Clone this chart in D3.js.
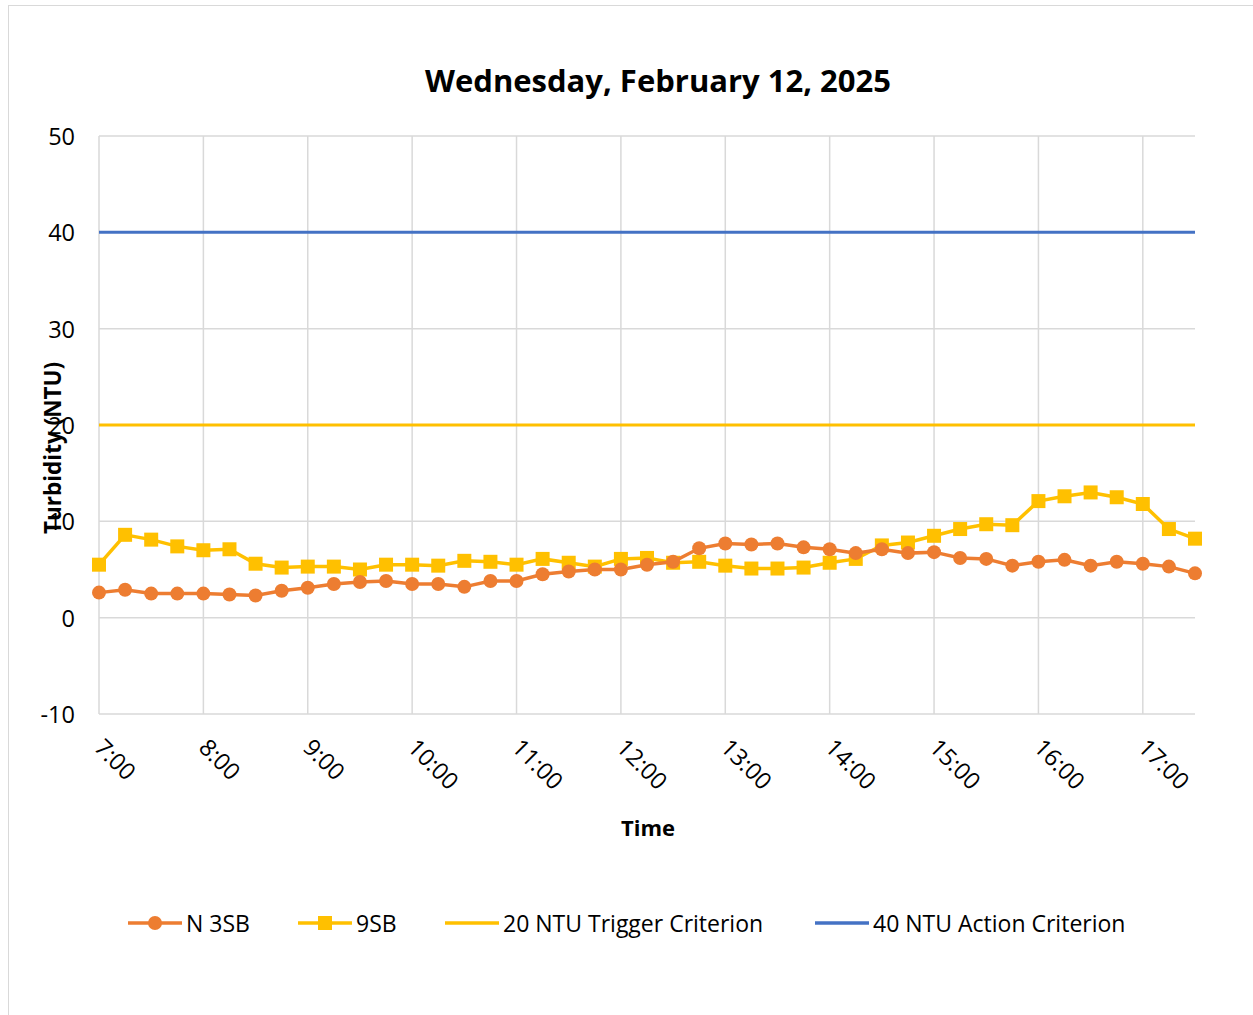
<!DOCTYPE html>
<html>
<head>
<meta charset="utf-8">
<script src="https://cdn.jsdelivr.net/npm/d3@7"></script>
<style>
body { margin: 0; background: #fff; }
text { font-family: "Open Sans", Lato, sans-serif; fill: #000; }
</style>
</head>
<body>
<script>
// data, read at 15 minute steps from 7:00 to 17:30
var startTime = "07:00";
var stepMinutes = 15;
var n3sb = [2.6, 2.9, 2.5, 2.5, 2.5, 2.4, 2.3, 2.8, 3.1, 3.5, 3.7, 3.8, 3.5, 3.5, 3.2, 3.8,
  3.8, 4.5, 4.8, 5.0, 5.0, 5.5, 5.8, 7.2, 7.7, 7.6, 7.7, 7.3, 7.1, 6.7, 7.1, 6.7,
  6.8, 6.2, 6.1, 5.4, 5.8, 6.0, 5.4, 5.8, 5.6, 5.3, 4.6];
var sb9 = [5.5, 8.6, 8.1, 7.4, 7.0, 7.1, 5.6, 5.2, 5.3, 5.3, 5.0, 5.5, 5.5, 5.4, 5.9, 5.8,
  5.5, 6.1, 5.7, 5.3, 6.1, 6.2, 5.7, 5.8, 5.4, 5.1, 5.1, 5.2, 5.7, 6.1, 7.5, 7.8,
  8.5, 9.2, 9.7, 9.6, 12.1, 12.6, 13.0, 12.5, 11.8, 9.2, 8.2];
var triggerLevel = 20;
var actionLevel = 40;
var yTicks = [-10, 0, 10, 20, 30, 40, 50];
var seriesNames = ["N 3SB", "9SB", "20 NTU Trigger Criterion", "40 NTU Action Criterion"];

var width = 1253, height = 1015;
var svg = d3.select("body").append("svg")
  .attr("width", width)
  .attr("height", height);

// outer chart border
svg.append("rect")
  .attr("x", 8.5).attr("y", 5.5)
  .attr("width", width + 10).attr("height", height + 10)
  .attr("fill", "none").attr("stroke", "#d9d9d9");

var parse = d3.timeParse("%H:%M");
var t0 = parse(startTime);
var times = n3sb.map((d, i) => d3.timeMinute.offset(t0, i * stepMinutes));

var x = d3.scaleTime()
  .domain([t0, times[times.length - 1]])
  .range([99, 1195]);
var y = d3.scaleLinear()
  .domain([-10, 50])
  .range([714, 136]);

var hourTicks = d3.timeHour.range(t0, d3.timeMinute.offset(times[times.length - 1], 1));

// grid
svg.append("g").selectAll("line.h").data(yTicks).join("line")
  .attr("x1", 99).attr("x2", 1195)
  .attr("y1", d => y(d)).attr("y2", d => y(d))
  .attr("stroke", "#d9d9d9").attr("stroke-width", 1.5);
svg.append("g").selectAll("line.v").data(hourTicks).join("line")
  .attr("x1", d => x(d)).attr("x2", d => x(d))
  .attr("y1", 136).attr("y2", 714)
  .attr("stroke", "#d9d9d9").attr("stroke-width", 1.5);

// y tick labels
svg.append("g").selectAll("text").data(yTicks).join("text")
  .attr("x", 75).attr("y", d => y(d))
  .attr("text-anchor", "end").attr("dominant-baseline", "central")
  .attr("font-size", 23.5)
  .text(d => d);

// x tick labels, rotated
var fmt = d3.timeFormat("%-H:%M");
svg.append("g").selectAll("text").data(hourTicks).join("text")
  .attr("transform", d => "translate(" + (x(d) - 6) + ",749) rotate(45)")
  .attr("font-size", 23.5)
  .text(d => fmt(d));

// criterion lines
svg.append("line")
  .attr("x1", 99).attr("x2", 1195)
  .attr("y1", y(actionLevel)).attr("y2", y(actionLevel))
  .attr("stroke", "#4472c4").attr("stroke-width", 3);
svg.append("line")
  .attr("x1", 99).attr("x2", 1195)
  .attr("y1", y(triggerLevel)).attr("y2", y(triggerLevel))
  .attr("stroke", "#ffc000").attr("stroke-width", 3);

var line = d3.line()
  .x((d, i) => x(times[i]))
  .y(d => y(d));

// 9SB
svg.append("path").datum(sb9)
  .attr("d", line).attr("fill", "none")
  .attr("stroke", "#ffc000").attr("stroke-width", 3.5);
svg.append("g").selectAll("rect").data(sb9).join("rect")
  .attr("x", (d, i) => x(times[i]) - 7)
  .attr("y", d => y(d) - 7)
  .attr("width", 14).attr("height", 14)
  .attr("fill", "#ffc000");

// N 3SB
svg.append("path").datum(n3sb)
  .attr("d", line).attr("fill", "none")
  .attr("stroke", "#ed7d31").attr("stroke-width", 3.5);
svg.append("g").selectAll("circle").data(n3sb).join("circle")
  .attr("cx", (d, i) => x(times[i]))
  .attr("cy", d => y(d))
  .attr("r", 7)
  .attr("fill", "#ed7d31");

// titles
svg.append("text")
  .attr("x", 658).attr("y", 80)
  .attr("text-anchor", "middle").attr("dominant-baseline", "central")
  .attr("font-size", 31).attr("font-weight", "bold")
  .text("Wednesday, February 12, 2025");
svg.append("text")
  .attr("x", 648).attr("y", 827)
  .attr("text-anchor", "middle").attr("dominant-baseline", "central")
  .attr("font-size", 22).attr("font-weight", "bold")
  .text("Time");
svg.append("text")
  .attr("transform", "translate(52,448) rotate(-90)")
  .attr("text-anchor", "middle").attr("dominant-baseline", "central")
  .attr("font-size", 22.5).attr("font-weight", "bold")
  .text("Turbidity (NTU)");

// legend
var legendX = [128, 298, 445, 815];
var legendColors = ["#ed7d31", "#ffc000", "#ffc000", "#4472c4"];
var legendMarks = ["circle", "square", null, null];
var lg = svg.append("g").selectAll("g").data(seriesNames).join("g")
  .attr("transform", (d, i) => "translate(" + legendX[i] + ",923)");
lg.append("line")
  .attr("x1", 0).attr("x2", 54)
  .attr("stroke", (d, i) => legendColors[i]).attr("stroke-width", 3.5);
lg.filter((d, i) => legendMarks[i] === "circle").append("circle")
  .attr("cx", 27).attr("r", 7).attr("fill", legendColors[0]);
lg.filter((d, i) => legendMarks[i] === "square").append("rect")
  .attr("x", 20).attr("y", -7).attr("width", 14).attr("height", 14)
  .attr("fill", legendColors[1]);
lg.append("text")
  .attr("x", 58).attr("dominant-baseline", "central")
  .attr("font-size", 23)
  .text(d => d);
</script>
</body>
</html>
